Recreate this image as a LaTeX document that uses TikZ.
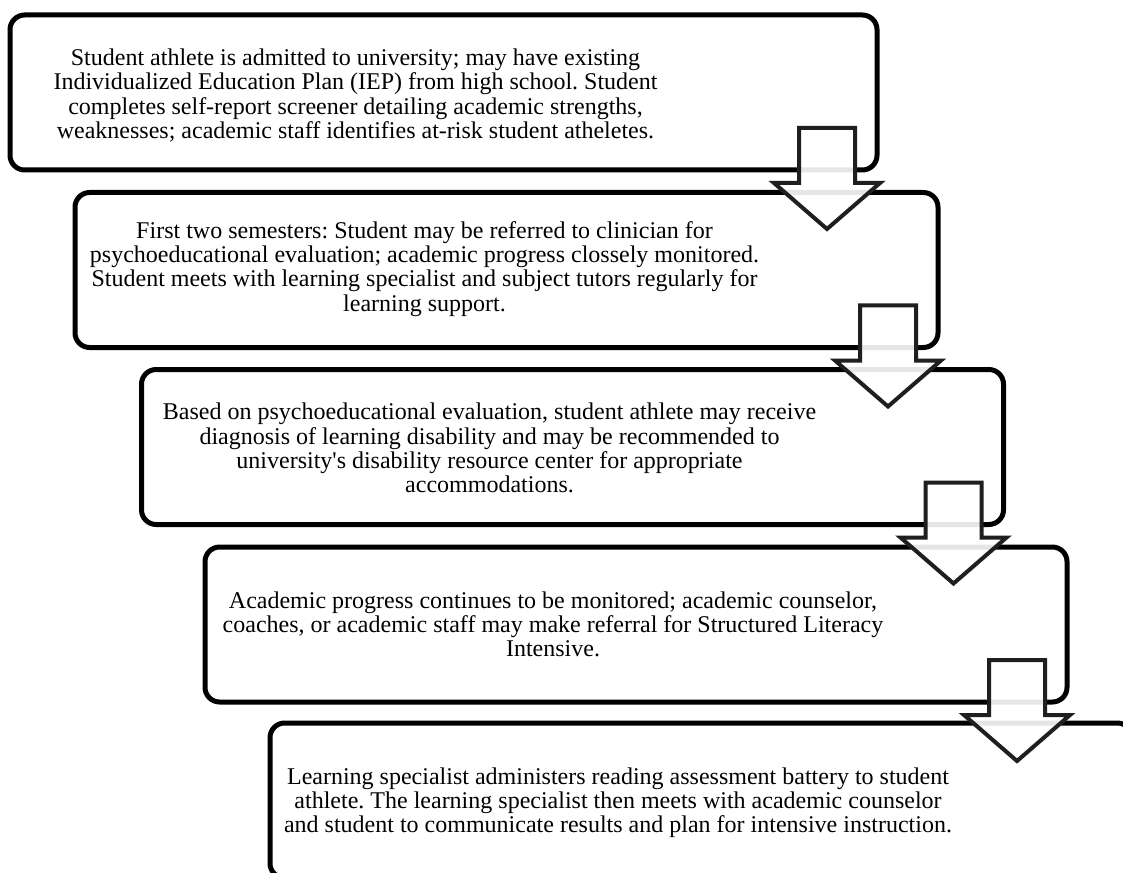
\documentclass[tikz,border=0pt]{standalone}
\usepackage{fontspec}
\setmainfont{Liberation Serif}
\usetikzlibrary{calc}
\tikzset{
  stagebox/.style={draw=black, line width=3.75pt, rounded corners=11pt, fill=none,
    minimum height=116.25pt, inner sep=0pt, outer sep=0pt},
  stagetext/.style={align=center, inner sep=0pt, font=\frenchspacing\fontsize{18}{18.2}\selectfont},
  flowarrow/.style={draw=black!88, line width=3pt, line join=miter, fill=white, fill opacity=0.9}
}
\newcommand\stagearrow[1]{%
  \draw[flowarrow]
    ($(#1.south east)+(-78,-42)$) -- ($(#1.south east)+(-22,-42)$)
    -- ($(#1.south east)+(-22,13)$) -- ($(#1.south east)+(3,13)$)
    -- ($(#1.south east)+(-50,59)$) -- ($(#1.south east)+(-103,13)$)
    -- ($(#1.south east)+(-78,13)$) -- cycle;}
\begin{document}
\frenchspacing
\begin{tikzpicture}[x=0.75pt, y=-0.75pt]
\useasboundingbox (0,0) rectangle (1123,873);
\clip (0,0) rectangle (1123,873);
\fill[white] (0,0) rectangle (1123,873);

\node[stagebox, minimum width=650.25pt] (b1) at (443.5,92.5) {};
\node[stagebox, minimum width=647.25pt] (b2) at (506.5,270) {};
\node[stagebox, minimum width=646.5pt] (b3) at (572.5,447) {};
\node[stagebox, minimum width=646.5pt] (b4) at (636,624.5) {};
\node[stagebox, minimum width=646.5pt] (b5) at (701,800.5) {};

\node[stagetext] (t1) at ($(b1.center)+(-88,3)$) {Student athlete is admitted to university; may have existing\\Individualized Education Plan (IEP) from high school. Student\\completes self-report screener detailing academic strengths,\\weaknesses; academic staff identifies at-risk student atheletes.};
\node[stagetext] (t2) at ($(b2.center)+(-82,-1)$) {First two semesters: Student may be referred to clinician for\\psychoeducational evaluation; academic progress clossely monitored.\\Student meets with learning specialist and subject tutors regularly for\\learning support.};
\node[stagetext] (t3) at ($(b3.center)+(-83,1)$) {Based on psychoeducational evaluation, student athlete may receive\\diagnosis of learning disability and may be recommended to\\university\textquotesingle s disability resource center for appropriate\\accommodations.};
\node[stagetext] (t4) at ($(b4.center)+(-83,0)$) {Academic progress continues to be monitored; academic counselor,\\coaches, or academic staff may make referral for Structured Literacy\\Intensive.};
\node[stagetext] (t5) at ($(b5.center)+(-83,2)$) {Learning specialist administers reading assessment battery to student\\athlete. The learning specialist then meets with academic counselor\\and student to communicate results and plan for intensive instruction.};

\stagearrow{b1}
\stagearrow{b2}
\stagearrow{b3}
\stagearrow{b4}
\end{tikzpicture}
\end{document}
